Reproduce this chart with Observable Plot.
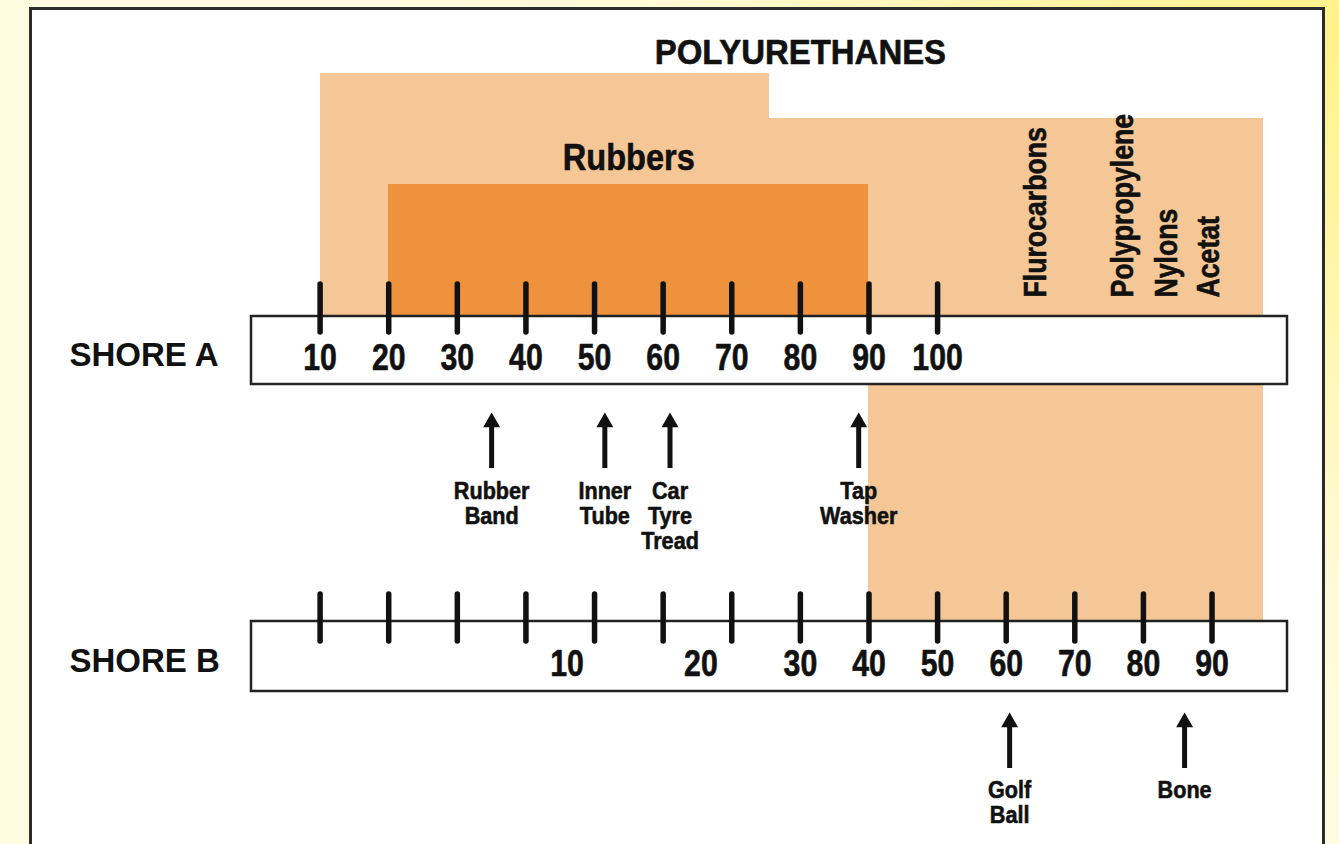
<!DOCTYPE html>
<html>
<head>
<meta charset="utf-8">
<script src="https://cdn.jsdelivr.net/npm/d3@7"></script>
<script src="https://cdn.jsdelivr.net/npm/@observablehq/plot@0.6"></script>
<style>
  html, body { margin: 0; padding: 0; width: 1339px; height: 844px; overflow: hidden; }
  body { background: radial-gradient(ellipse 950px 750px at 100% 4%, #fff28a 0%, #fff6ad 35%, #fffad6 72%, #fffbe0 100%); }
  #panel { position: absolute; left: 29px; top: 7px; width: 1296px; height: 900px; box-sizing: border-box;
           border: 3px solid #2b2b2b; background: #ffffff; }
  #chart { position: absolute; left: 0; top: 0; }
</style>
</head>
<body>
<div id="panel"></div>
<div id="chart"></div>
<script>
// ---------- data (positions along the Shore A axis) ----------
const shoreATicks = [10, 20, 30, 40, 50, 60, 70, 80, 90, 100];
const shoreBTickPos = [10, 20, 30, 40, 50, 60, 70, 80, 90, 100, 110, 120, 130, 140];
const shoreBLabels = [10, 20, 30, 40, 50, 60, 70, 80, 90];
const shoreBLabelPosA = [46, 65.5, 80, 90, 100, 110, 120, 130, 140];
const rubbersRange = [20, 90];
const polyurethaneRange = [10, 147.5];
const polyurethaneStep = 75.5;
const polyurethaneLowStart = 90;
const shoreAExamples = ["Rubber\nBand", "Inner\nTube", "Car\nTyre\nTread", "Tap\nWasher"];
const shoreAExampleValues = [35, 51.5, 61, 88.5];
const shoreBExamples = ["Golf\nBall", "Bone"];
const shoreBExampleValues = [60.5, 86];
const materials = ["Flurocarbons", "Polypropylene", "Nylons", "Acetat"];
const materialPosA = [114.3, 127, 133.5, 139.5];
const scaleNames = ["SHORE A", "SHORE B"];
const titleText = "POLYURETHANES";
const rubbersText = "Rubbers";

// ---------- layout & style ----------
const L = {
  titleY: 52, polyHighTop: 73, polyLowTop: 118, rubbersLabelY: 158, rubbersTop: 184,
  boxA: [316, 384], ticksA: [284, 332], numAY: 358, arrowA: [412, 468], exampleATop: 480,
  boxB: [621, 691], ticksB: [594, 641], numBY: 664, arrowB: [712, 768], exampleBTop: 779,
  nameY: [355, 661], nameX: 69, materialBottom: 297
};
const light = "#f5c696", dark = "#ee923e", ink = "#111111", boxStroke = "#222222";
const font = "'Liberation Sans', Arial, Helvetica, sans-serif";
// horizontal condensing of the lettering, per text group
const condense = {cnum: 0.84, ctitle: 0.94, crub: 0.88, cvert: 0.86, cex: 0.9};

const bToA = d3.scaleLinear().domain(shoreBLabels).range(shoreBLabelPosA);

const polyRects = [
  {x1: polyurethaneRange[0], x2: polyurethaneStep, y1: L.polyHighTop, y2: L.boxA[0]},
  {x1: polyurethaneStep, x2: polyurethaneRange[1], y1: L.polyLowTop, y2: L.boxA[0]},
  {x1: polyurethaneLowStart, x2: polyurethaneRange[1], y1: L.boxA[0] - 1, y2: L.boxB[0]}
];
const boxes = [{y1: L.boxA[0], y2: L.boxA[1]}, {y1: L.boxB[0], y2: L.boxB[1]}];
const headR = 6.3, headOff = 9.8;

const arrowsA = shoreAExampleValues.map((v, i) => ({x: v, label: shoreAExamples[i]}));
const arrowsB = shoreBExampleValues.map((v, i) => ({x: bToA(v), label: shoreBExamples[i]}));

const txt = {fontWeight: "bold", fontFamily: font, fill: ink};
const heavy = (cls) => ({...txt, stroke: ink, strokeWidth: 0.6, paintOrder: "normal", className: cls});

const chart = Plot.plot({
  width: 1339, height: 844, margin: 0,
  x: {domain: [0, 151], range: [251, 1287], axis: null},
  y: {type: "identity", axis: null},
  style: {background: "transparent", overflow: "visible"},
  marks: [
    Plot.rect(polyRects, {x1: "x1", x2: "x2", y1: "y1", y2: "y2", fill: light, shapeRendering: "crispEdges"}),
    Plot.rect([{x1: rubbersRange[0], x2: rubbersRange[1]}], {x1: "x1", x2: "x2", y1: L.rubbersTop, y2: L.boxA[0], fill: dark, shapeRendering: "crispEdges"}),
    Plot.rect(boxes, {x1: 0, x2: 151, y1: "y1", y2: "y2", fill: "white", stroke: boxStroke, strokeWidth: 2.5}),
    Plot.ruleX(shoreATicks, {x: d => d, y1: L.ticksA[0], y2: L.ticksA[1], stroke: ink, strokeWidth: 5.5, strokeLinecap: "round"}),
    Plot.ruleX(shoreBTickPos, {x: d => d, y1: L.ticksB[0], y2: L.ticksB[1], stroke: ink, strokeWidth: 5.5, strokeLinecap: "round"}),
    Plot.text(shoreATicks, {x: d => d, y: L.numAY, text: d => String(d), fontSize: 36, ...heavy("cnum")}),
    Plot.text(shoreBLabels, {x: (d, i) => shoreBLabelPosA[i], y: L.numBY, text: d => String(d), fontSize: 36, ...heavy("cnum")}),
    Plot.text([titleText], {x: 80, y: L.titleY, fontSize: 35, ...heavy("ctitle")}),
    Plot.text([rubbersText], {x: (rubbersRange[0] + rubbersRange[1]) / 2, y: L.rubbersLabelY, fontSize: 37, ...heavy("crub")}),
    Plot.text(materials, {x: (d, i) => materialPosA[i], y: L.materialBottom, rotate: -90, textAnchor: "start", lineAnchor: "middle", fontSize: 31, ...heavy("cvert")}),
    Plot.text(scaleNames, {frameAnchor: "left", y: (d, i) => L.nameY[i], dx: L.nameX, textAnchor: "start", fontSize: 33, ...txt}),
    // arrows for Shore A examples
    Plot.ruleX(arrowsA, {x: "x", y1: L.arrowA[0] + headOff, y2: L.arrowA[1], stroke: ink, strokeWidth: 5}),
    Plot.dot(arrowsA, {x: "x", y: L.arrowA[0] + headOff, symbol: "triangle", r: headR, fill: ink, stroke: null}),
    Plot.text(arrowsA, {x: "x", y: L.exampleATop, text: "label", lineAnchor: "top", lineHeight: 1.06, fontSize: 24, ...heavy("cex")}),
    // arrows for Shore B examples
    Plot.ruleX(arrowsB, {x: "x", y1: L.arrowB[0] + headOff, y2: L.arrowB[1], stroke: ink, strokeWidth: 5}),
    Plot.dot(arrowsB, {x: "x", y: L.arrowB[0] + headOff, symbol: "triangle", r: headR, fill: ink, stroke: null}),
    Plot.text(arrowsB, {x: "x", y: L.exampleBTop, text: "label", lineAnchor: "top", lineHeight: 1.06, fontSize: 24, ...heavy("cex")})
  ]
});
document.getElementById("chart").appendChild(chart);

// condensed lettering like the original artwork
Object.entries(condense).forEach(([cls, f]) => {
  chart.querySelectorAll(`g.${cls} text`).forEach(t => {
    const spans = t.querySelectorAll("tspan");
    const items = spans.length ? Array.from(spans) : [t];
    items.forEach(el => {
      const len = el.getComputedTextLength();
      if (len > 0) {
        el.setAttribute("textLength", (len * f).toFixed(2));
        el.setAttribute("lengthAdjust", "spacingAndGlyphs");
      }
    });
  });
});
</script>
</body>
</html>
